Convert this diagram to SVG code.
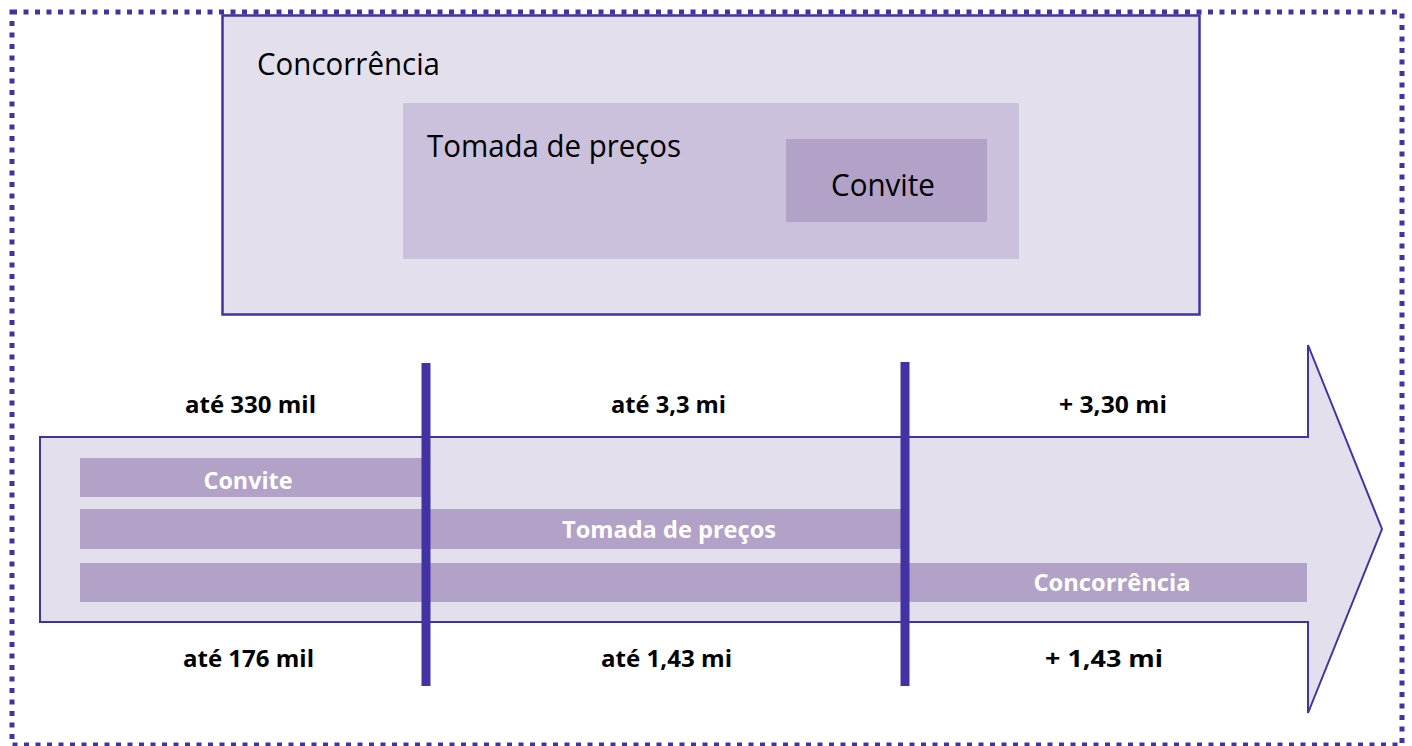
<svg xmlns="http://www.w3.org/2000/svg" width="1412" height="746" viewBox="0 0 1412 746">
<style>
.lbl{font-family:"Open Sans","Liberation Sans",sans-serif;font-weight:bold;font-size:24px;fill:#000;text-anchor:middle}
.bar{fill:#b2a2c7}
.bartxt{font-family:"Open Sans","Liberation Sans",sans-serif;font-weight:bold;font-size:24px;fill:#fff;text-anchor:middle}
.title{font-family:"Open Sans","Liberation Sans",sans-serif;font-size:31px;fill:#000}
.vline{stroke:#4332a3;stroke-width:9}
</style>
<rect width="1412" height="746" fill="#fff"/>
<rect x="12" y="12" width="1390" height="733" fill="none" stroke="#4332a3" stroke-width="5" stroke-dasharray="5 6.5"/>
<g id="concorrencia-box">
<rect x="222.5" y="15.5" width="977" height="299" fill="#e4dfec" stroke="#4332a3" stroke-width="2.5"/>
<text class="title" x="257" y="75" textLength="183" lengthAdjust="spacingAndGlyphs">Concorrência</text>
</g>
<g id="tomada-box">
<rect x="403" y="103" width="616" height="156" fill="#cbc1dc"/>
<text class="title" x="427" y="157" textLength="254" lengthAdjust="spacingAndGlyphs">Tomada de preços</text>
</g>
<g id="convite-box">
<rect x="786" y="139" width="201" height="83" fill="#b2a2c7"/>
<text class="title" x="831" y="196" textLength="104" lengthAdjust="spacingAndGlyphs">Convite</text>
</g>
<g id="arrow">
<path d="M40 437 H1308 V345 L1382 529 L1308 713 V622 H40 Z" fill="#e4dfec" stroke="#4332a3" stroke-width="2"/>
</g>
<g id="bar-convite">
<rect class="bar" x="80" y="458" width="344" height="39"/>
<text class="bartxt" x="248" y="489" textLength="89" lengthAdjust="spacingAndGlyphs">Convite</text>
</g>
<g id="bar-tomada">
<rect class="bar" x="80" y="509" width="823" height="40"/>
<text class="bartxt" x="669" y="538" textLength="214" lengthAdjust="spacingAndGlyphs">Tomada de preços</text>
</g>
<g id="bar-concorrencia">
<rect class="bar" x="80" y="563" width="1227" height="39"/>
<text class="bartxt" x="1112" y="591" textLength="157" lengthAdjust="spacingAndGlyphs">Concorrência</text>
</g>
<g id="connectors">
<line class="vline" x1="426" y1="363" x2="426" y2="686"/>
<line class="vline" x1="905" y1="362" x2="905" y2="686"/>
</g>
<g id="labels">
<text class="lbl" x="250.5" y="413" textLength="131" lengthAdjust="spacingAndGlyphs">até 330 mil</text>
<text class="lbl" x="668.5" y="413" textLength="115" lengthAdjust="spacingAndGlyphs">até 3,3 mi</text>
<text class="lbl" x="1113" y="413" textLength="108" lengthAdjust="spacingAndGlyphs">+ 3,30 mi</text>
<text class="lbl" x="248.5" y="667" textLength="131" lengthAdjust="spacingAndGlyphs">até 176 mil</text>
<text class="lbl" x="666.5" y="667" textLength="131" lengthAdjust="spacingAndGlyphs">até 1,43 mi</text>
<text class="lbl" x="1104" y="667" textLength="118" lengthAdjust="spacingAndGlyphs">+ 1,43 mi</text>
</g>
</svg>
